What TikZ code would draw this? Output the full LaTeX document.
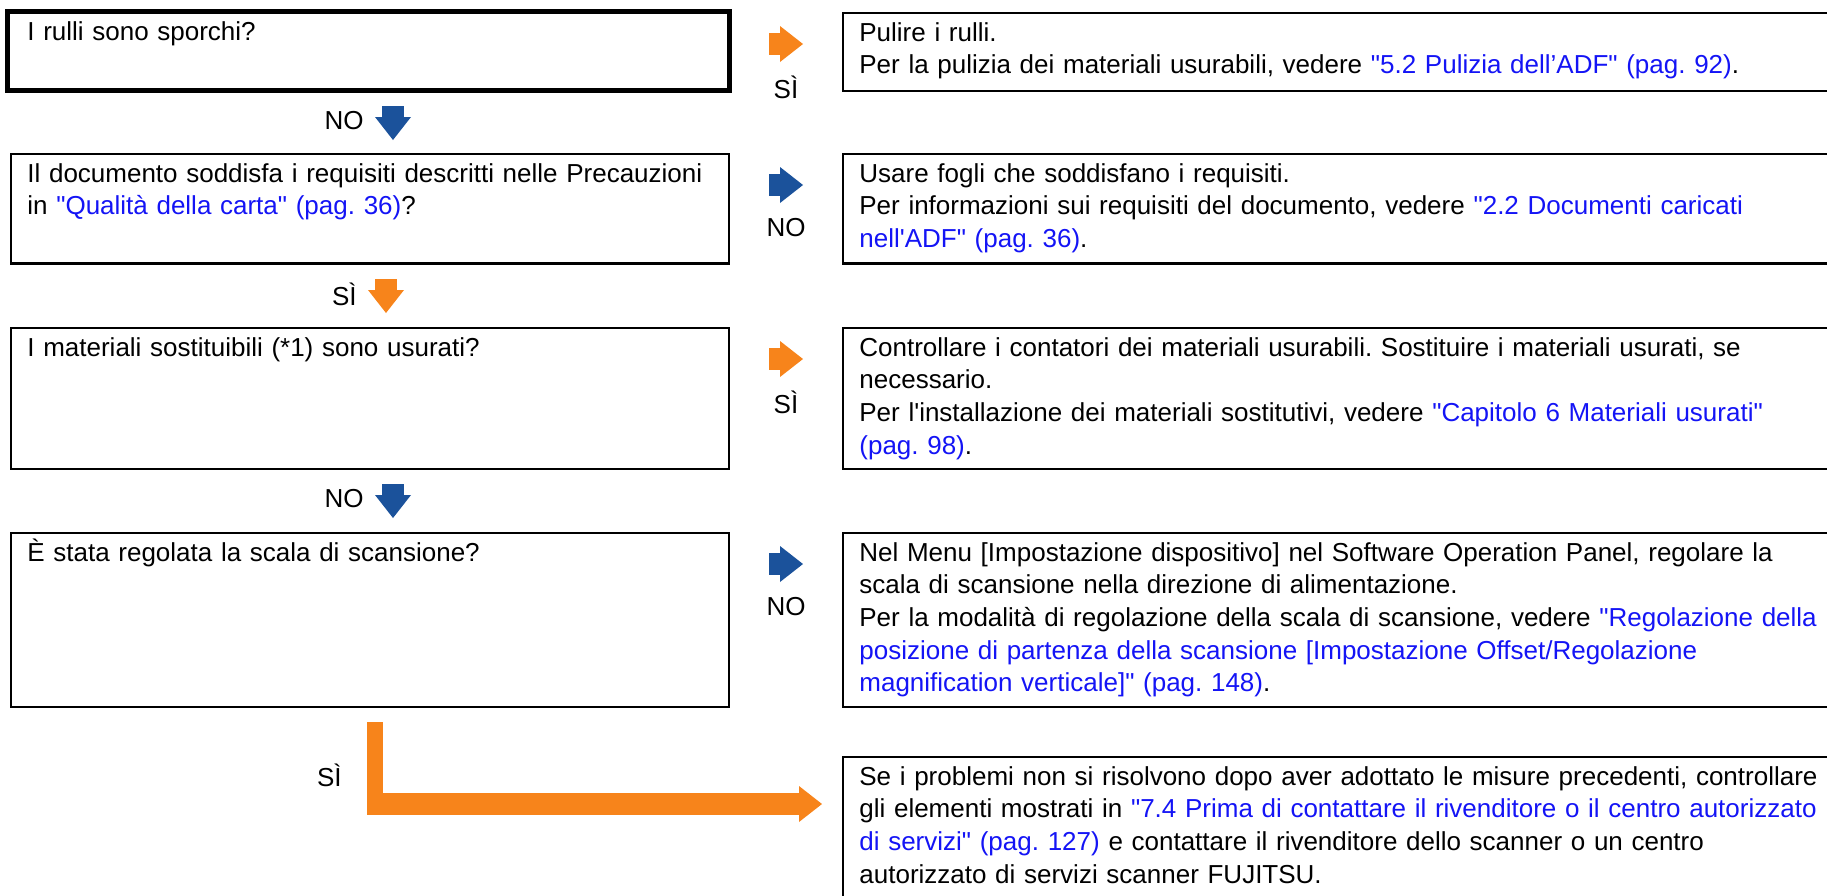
\documentclass[tikz,border=0pt]{standalone}
\usepackage{fontspec}
\setmainfont{Liberation Sans}
\usepackage{tikz}
\usetikzlibrary{arrows.meta,positioning,calc}
\definecolor{arancio}{RGB}{247,132,27}
\definecolor{bluFreccia}{RGB}{27,82,155}
\definecolor{bluLink}{RGB}{20,20,245}
\newcommand{\lnk}[1]{\textcolor{bluLink}{#1}}
\newcommand{\virg}{\textquotedbl}
\frenchspacing

\tikzset{
  riquadro/.style={draw, line width=1.3pt, anchor=north west, inner sep=0pt, outer sep=0pt},
  domanda/.style={riquadro, minimum width=359pt},
  risposta/.style={riquadro, minimum width=500pt},
  testo/.style={anchor=base west, align=left, text width=560pt, inner sep=0pt},
  etich/.style={inner sep=0pt},
  frecciaSi/.style={arancio, line width=11pt, -{Triangle[width=18pt, length=11.5pt, line width=0pt]}},
  frecciaNo/.style={bluFreccia, line width=11pt, -{Triangle[width=18pt, length=11.5pt, line width=0pt]}}
}

\begin{document}
\begin{tikzpicture}[x=0.5pt, y=-0.5pt, font=\fontsize{13pt}{16.35pt}\selectfont]
\useasboundingbox (0,0) rectangle (1827,895);
\clip (0,0) rectangle (1827,895);

% domande (colonna sinistra)
\node[domanda, line width=2.5pt, minimum width=361pt, minimum height=39.5pt] (q1) at (7.5,11.5) {};
\node[domanda, minimum height=54.75pt] (q2) at (11,154) {};
\node[domanda, minimum height=70.5pt] (q3) at (11,328) {};
\node[domanda, minimum height=87pt] (q4) at (11,533) {};

% risposte (colonna destra)
\node[risposta, minimum height=39pt] (r1) at (843,13) {};
\node[risposta, minimum height=54.75pt] (r2) at (843,154) {};
\node[risposta, minimum height=70.5pt] (r3) at (843,328) {};
\node[risposta, minimum height=87pt] (r4) at (843,533) {};
\node[risposta, minimum height=75pt] (r5) at (843,757) {};

\node[testo] (tq1) at ($(q1.north west)+(19.5,28.5)$) {I rulli sono sporchi?};
\node[testo] (tq2) at ($(q2.north west)+(16,28)$) {Il documento soddisfa i requisiti descritti nelle Precauzioni\\
  in \lnk{\virg Qualità della carta\virg{} (pag. 36)}?};
\node[testo] (tq3) at ($(q3.north west)+(16,28)$) {I materiali sostituibili (*1) sono usurati?};
\node[testo] (tq4) at ($(q4.north west)+(16,28)$) {È stata regolata la scala di scansione?};

\node[testo] (tr1) at ($(r1.north west)+(16,28)$) {Pulire i rulli.\\
  Per la pulizia dei materiali usurabili, vedere \lnk{\virg 5.2 Pulizia dell’ADF\virg{} (pag. 92)}.};
\node[testo] (tr2) at ($(r2.north west)+(16,28)$) {Usare fogli che soddisfano i requisiti.\\
  Per informazioni sui requisiti del documento, vedere \lnk{\virg 2.2 Documenti caricati}\\
  \lnk{nell\textquotesingle ADF\virg{} (pag. 36)}.};
\node[testo] (tr3) at ($(r3.north west)+(16,28)$) {Controllare i contatori dei materiali usurabili. Sostituire i materiali usurati, se\\
  necessario.\\
  Per l\textquotesingle installazione dei materiali sostitutivi, vedere \lnk{\virg Capitolo 6 Materiali usurati\virg}\\
  \lnk{(pag. 98)}.};
\node[testo] (tr4) at ($(r4.north west)+(16,28)$) {Nel Menu [Impostazione dispositivo] nel Software Operation Panel, regolare la\\
  scala di scansione nella direzione di alimentazione.\\
  Per la modalità di regolazione della scala di scansione, vedere \lnk{\virg Regolazione della}\\
  \lnk{posizione di partenza della scansione [Impostazione Offset/Regolazione}\\
  \lnk{magnification verticale]\virg{} (pag. 148)}.};
\node[testo] (tr5) at ($(r5.north west)+(16,28)$) {Se i problemi non si risolvono dopo aver adottato le misure precedenti, controllare\\
  gli elementi mostrati in \lnk{\virg 7.4 Prima di contattare il rivenditore o il centro autorizzato}\\
  \lnk{di servizi\virg{} (pag. 127)} e contattare il rivenditore dello scanner o un centro\\
  autorizzato di servizi scanner FUJITSU.};

% frecce verso destra
\draw[frecciaSi] ($(r1.north west)+(-74,31)$) coordinate (a1) -- ++(34,0);
\draw[frecciaNo] ($(r2.north west)+(-74,31)$) coordinate (a2) -- ++(34,0);
\draw[frecciaSi] ($(r3.north west)+(-74,31)$) coordinate (a3) -- ++(34,0);
\draw[frecciaNo] ($(r4.north west)+(-74,31)$) coordinate (a4) -- ++(34,0);
\node[etich] (la1) at ($(a1)+(17,43)$) {SÌ};
\node[etich] (la2) at ($(a2)+(17,43)$) {NO};
\node[etich] (la3) at ($(a3)+(17,43)$) {SÌ};
\node[etich] (la4) at ($(a4)+(17,43)$) {NO};

% frecce verso il basso
\draw[frecciaNo] ($(q2.north west)+(382,-48)$) coordinate (d1) -- ++(0,34);
\draw[frecciaSi] ($(q3.north west)+(375,-49)$) coordinate (d2) -- ++(0,34);
\draw[frecciaNo] ($(q4.north west)+(382,-49)$) coordinate (d3) -- ++(0,34);
\node[etich, anchor=east] (ld1) at ($(d1)+(-29,15)$) {NO};
\node[etich, anchor=east] (ld2) at ($(d2)+(-29,15)$) {SÌ};
\node[etich, anchor=east] (ld3) at ($(d3)+(-29,15)$) {NO};

% freccia finale a L
\draw[arancio, line width=8pt] ($(q4.south west)+(364,15)$) coordinate (g0) -- ++(0,93);
\draw[frecciaSi] ($(g0)+(-8,82)$) -- ($(r5.north west)+(-21,47)$);
\node[etich, anchor=east] (lg) at ($(g0)+(-33,53)$) {SÌ};

\end{tikzpicture}
\end{document}
